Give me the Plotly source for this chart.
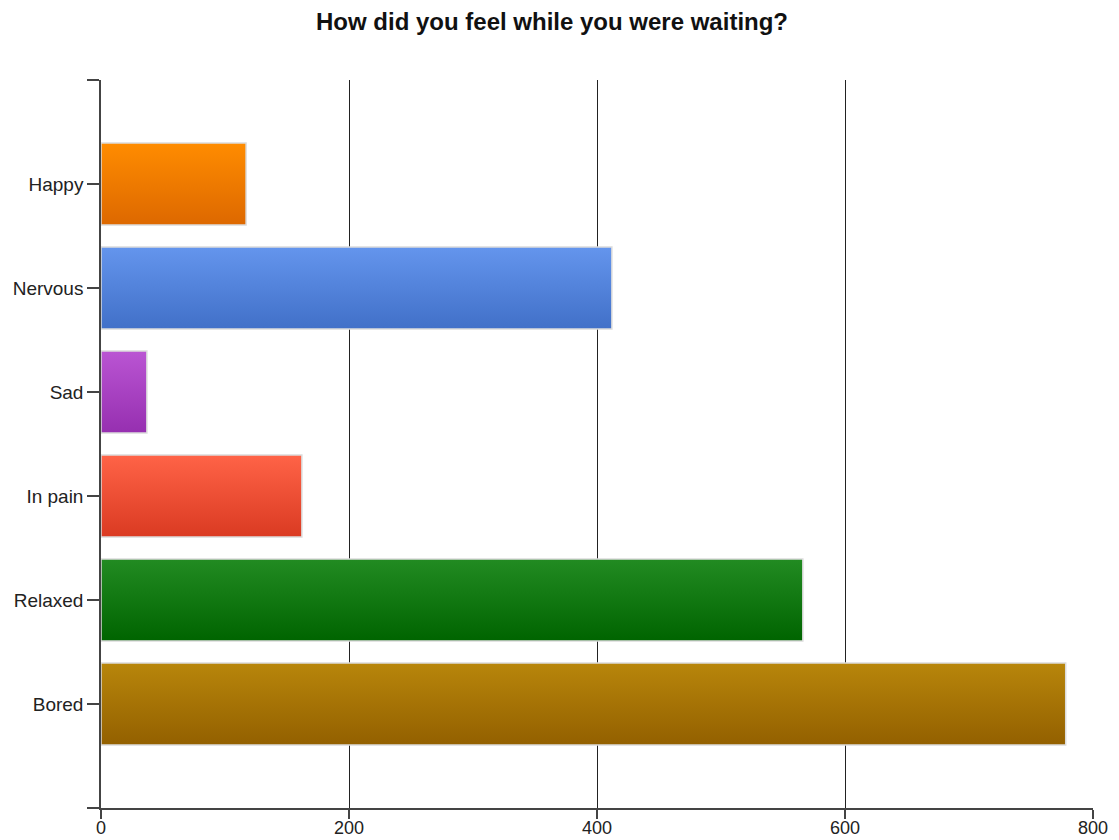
import plotly.graph_objects as go

categories = ["Happy", "Nervous", "Sad", "In pain", "Relaxed", "Bored"]
values = [117, 412, 37, 162, 566, 778]
top_colors = ["#FF8C00", "#6495ED", "#BA55D3", "#FF6347", "#228B22", "#B8860B"]
bottom_colors = ["#DD6800", "#4170C8", "#962FB0", "#DA3A22", "#006400", "#936000"]
x_ticks = [0, 200, 400, 600, 800]

bar_w = 0.79
fig = go.Figure()
for i, (cat, v) in enumerate(zip(categories, values)):
    y0, y1 = i - bar_w / 2, i + bar_w / 2
    fig.add_trace(go.Scatter(
        x=[0, v, v, 0, 0], y=[y0, y0, y1, y1, y0],
        mode="lines", fill="toself",
        line=dict(color="#DCDCDC", width=1.5),
        fillgradient=dict(type="vertical", start=y0, stop=y1,
                          colorscale=[[0, top_colors[i]], [1, bottom_colors[i]]]),
        name=cat, showlegend=False,
        hovertemplate=f"{cat}: {v}<extra></extra>",
    ))

font_family = "Liberation Sans, Arial, sans-serif"
fig.update_layout(
    width=1119, height=840,
    margin=dict(l=101, r=26, t=80, b=32, autoexpand=False),
    paper_bgcolor="white", plot_bgcolor="white",
    title=dict(text="<b>How did you feel while you were waiting?</b>",
               x=552 / 1119, xanchor="center", y=1 - 22 / 840, yanchor="middle",
               font=dict(family=font_family, size=24, color="#111")),
    font=dict(family=font_family, size=19, color="#222"),
    xaxis=dict(range=[0, 800], tickvals=x_ticks, ticktext=[str(t) for t in x_ticks],
               tickfont=dict(size=18),
               showgrid=True, gridcolor="#222", gridwidth=1.3,
               showline=True, linecolor="#444", linewidth=1.5,
               ticks="outside", ticklen=9, tickcolor="#444", tickwidth=1.5,
               ticklabelstandoff=-6,
               zeroline=False, fixedrange=True, automargin=False),
    yaxis=dict(range=[6, -1], tickvals=list(range(-1, len(categories) + 1)),
               ticktext=[""] + categories + [""],
               showgrid=False, showline=True, linecolor="#444", linewidth=1.5,
               ticks="outside", ticklen=12, tickcolor="#444", tickwidth=1.5,
               zeroline=False, fixedrange=True, automargin=False),
)

fig.write_html(
    "out.html",
    config={"displayModeBar": False},
    post_script="document.body.style.margin='0';document.documentElement.style.overflow='hidden';",
)
